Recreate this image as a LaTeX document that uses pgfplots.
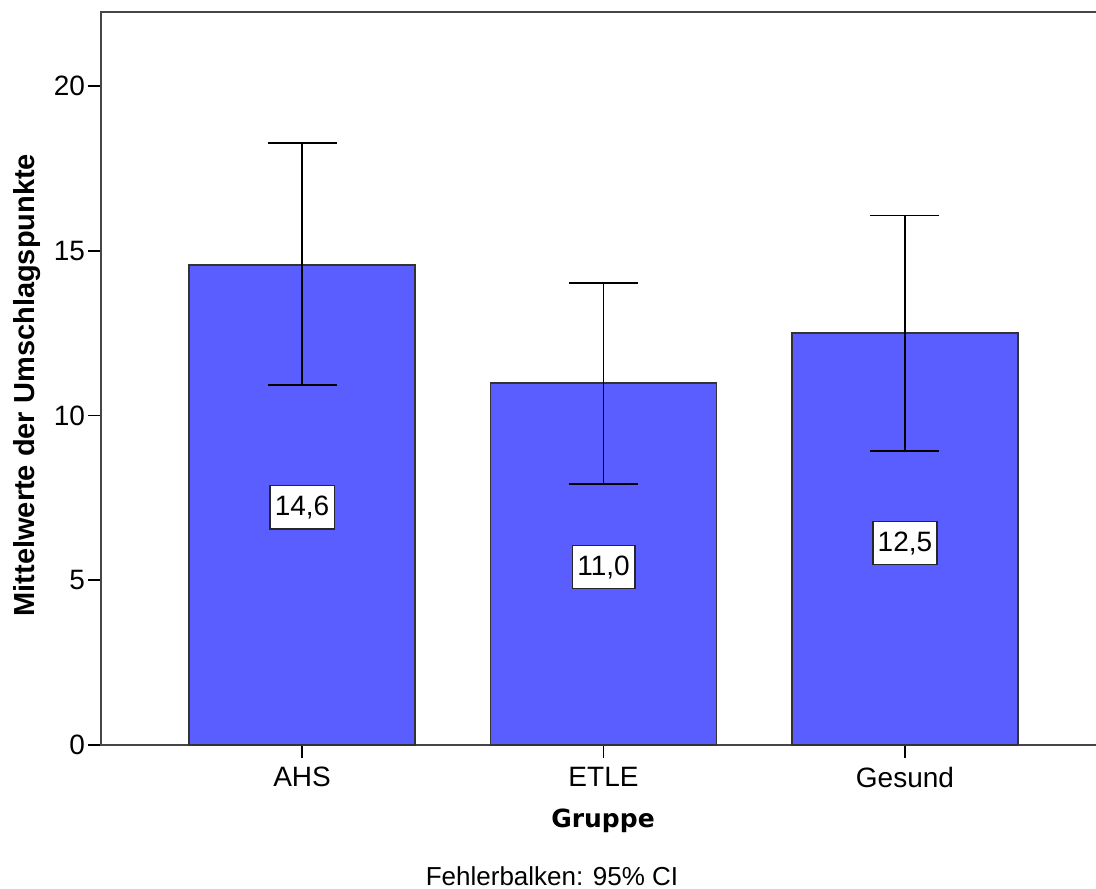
\documentclass[border=0pt]{standalone}
\usepackage{fontspec}
\setmainfont{Liberation Sans}
\newfontfamily\lucida{DejaVu Sans}
\usepackage{pgfplots}
\pgfplotsset{compat=1.18}
\definecolor{barblue}{RGB}{90,94,255}
\definecolor{axisgray}{RGB}{70,70,70}
\begin{document}
\begin{tikzpicture}
\path[use as bounding box] (-50.5pt,-71.5pt) rectangle (497.5pt,372.5pt);
\begin{axis}[
  at={(0pt,0pt)}, anchor=south west,
  scale only axis, width=502.5pt, height=366.5pt,
  xmin=-0.667, xmax=2.667, ymin=0, ymax=22.25,
  xtick={0,1,2}, xticklabels={AHS,ETLE,Gesund},
  ytick={0,5,10,15,20},
  xtick pos=bottom, ytick pos=left, tick align=outside,
  major tick length=6.5pt,
  tick style={black, line width=0.8pt},
  axis line style={axisgray, line width=1pt},
  /pgf/number format/assume math mode=true,
  ticklabel style={font=\fontsize{14}{16}\selectfont},
  xticklabel style={yshift=-1pt},
  yticklabel style={xshift=2pt},
  xlabel={\lucida\bfseries Gruppe},
  xlabel style={at={(axis description cs:0.4995,-0.1037)}, anchor=center, font=\fontsize{12.5}{15}\selectfont},
  ylabel={\bfseries Mittelwerte der Umschlagspunkte},
  ylabel style={at={(axis description cs:-0.0736,0.491)}, anchor=center, rotate=0, font=\fontsize{14.5}{16}\selectfont},
  clip=false,
]
\addplot[ybar, bar width=0.75, fill=barblue, draw=black!80, line width=0.8pt,
  error bars/.cd, y dir=both, y explicit,
  error bar style={black, line width=0.7pt},
  error mark options={rotate=90, mark size=17.25pt, line width=0.7pt, black}]
  coordinates {
    (0,14.57) += (0,3.70) -= (0,3.64)
    (1,10.99) += (0,3.03) -= (0,3.07)
    (2,12.50) += (0,3.58) -= (0,3.58)
  };
\addplot[draw=none, mark=none, nodes near coords, point meta=explicit symbolic,
  nodes near coords align=center,
  every node near coord/.style={anchor=center, fill=white, draw=black!85, line width=0.8pt,
    inner xsep=2.5pt, inner ysep=5pt, font=\fontsize{14}{16}\selectfont}]
  coordinates {
    (0,7.22) [{14,6}]
    (1,5.40) [{11,0}]
    (2,6.13) [{12,5}]
  };
\node[font=\fontsize{13}{15}\selectfont, anchor=center] at (axis description cs:0.4488,-0.1787) {Fehlerbalken: 95\% CI};
\end{axis}
\end{tikzpicture}
\end{document}
